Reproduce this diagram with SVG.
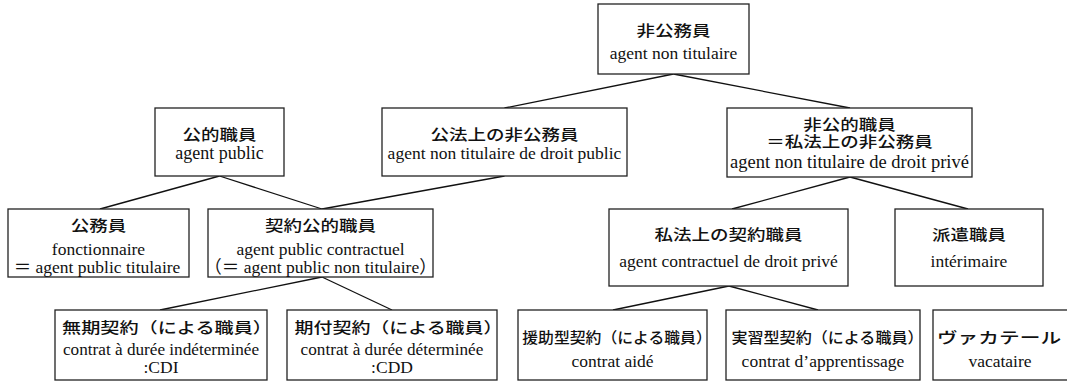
<svg xmlns="http://www.w3.org/2000/svg" width="1067" height="381" viewBox="0 0 1067 381">
<style>
.box{fill:#fff;stroke:#222;stroke-width:1.3}
.ln{stroke:#111;stroke-width:1.3;fill:none}
.jp{font-family:"Noto Sans CJK JP",sans-serif;font-size:18.5px;font-weight:500;fill:#111;text-anchor:middle}
.fr{font-family:"Liberation Serif","Noto Sans CJK JP",serif;font-size:17.5px;fill:#111;text-anchor:middle}
</style>
<rect width="1067" height="381" fill="#fff"/>
<g id="connectors">
<line class="ln" x1="673.5" y1="74" x2="504.5" y2="108"/>
<line class="ln" x1="673.5" y1="74" x2="850" y2="108"/>
<line class="ln" x1="219.5" y1="176" x2="100" y2="209"/>
<line class="ln" x1="219.5" y1="176" x2="322" y2="209"/>
<line class="ln" x1="504.5" y1="176" x2="322" y2="209"/>
<line class="ln" x1="850" y1="177" x2="732" y2="209"/>
<line class="ln" x1="850" y1="177" x2="968" y2="209"/>
<line class="ln" x1="322" y1="277" x2="160" y2="310"/>
<line class="ln" x1="322" y1="277" x2="392" y2="310"/>
<line class="ln" x1="729" y1="286" x2="613" y2="310"/>
<line class="ln" x1="729" y1="286" x2="818" y2="310"/>
</g>
<g id="n-top">
<rect class="box" x="598" y="4" width="151" height="70"/>
<text class="jp" transform="translate(673.5 36) scale(1 .82)">非公務員</text>
<text class="fr" x="673.5" y="59">agent non titulaire</text>
</g>
<g id="n-public">
<rect class="box" x="155" y="108" width="129" height="68"/>
<text class="jp" transform="translate(219.5 139.5) scale(1 .82)">公的職員</text>
<text class="fr" x="219.5" y="159" style="font-size:18px">agent public</text>
</g>
<g id="n-ntpublic">
<rect class="box" x="382" y="108" width="245" height="68"/>
<text class="jp" transform="translate(504.5 139.5) scale(1 .82)">公法上の非公務員</text>
<text class="fr" x="504.5" y="159">agent non titulaire de droit public</text>
</g>
<g id="n-ntprive">
<rect class="box" x="727" y="108" width="245" height="69"/>
<text class="jp" transform="translate(849.5 130) scale(1 .82)"><tspan x="0" y="0">非公的職員</tspan><tspan x="0" dy="21.3">＝私法上の非公務員</tspan></text>
<text class="fr" x="849.5" y="168" style="font-size:18.5px">agent non titulaire de droit privé</text>
</g>
<g id="n-fonctionnaire">
<rect class="box" x="8" y="209" width="181" height="68"/>
<text class="jp" transform="translate(98.5 231) scale(1 .82)">公務員</text>
<text class="fr" x="98.5" y="255">fonctionnaire</text>
<text class="fr" x="97" y="273">＝ agent public titulaire</text>
</g>
<g id="n-contractuel">
<rect class="box" x="208" y="209" width="225" height="68"/>
<text class="jp" transform="translate(320.5 231) scale(1 .82)">契約公的職員</text>
<text class="fr" x="320.5" y="255">agent public contractuel</text>
<text class="fr" x="320.5" y="273">（＝ agent public non titulaire）</text>
</g>
<g id="n-prive">
<rect class="box" x="609" y="209" width="239" height="77"/>
<text class="jp" transform="translate(728.5 240.3) scale(1 .82)">私法上の契約職員</text>
<text class="fr" x="728.5" y="267">agent contractuel de droit privé</text>
</g>
<g id="n-interimaire">
<rect class="box" x="895" y="209" width="148" height="77"/>
<text class="jp" transform="translate(969 240.3) scale(1 .82)">派遣職員</text>
<text class="fr" x="969" y="267">intérimaire</text>
</g>
<g id="n-cdi">
<rect class="box" x="55" y="310" width="212" height="70"/>
<text class="jp" transform="translate(167 332.5) scale(1.035 .82)">無期契約（による職員）</text>
<text class="fr" x="161" y="355" style="font-size:17.2px">contrat à durée indéterminée</text>
<text class="fr" x="161" y="373">:CDI</text>
</g>
<g id="n-cdd">
<rect class="box" x="287" y="310" width="210" height="70"/>
<text class="jp" transform="translate(398.5 332.5) scale(1.025 .82)">期付契約（による職員）</text>
<text class="fr" x="392" y="355" style="font-size:17.2px">contrat à durée déterminée</text>
<text class="fr" x="392" y="373">:CDD</text>
</g>
<g id="n-aide">
<rect class="box" x="518" y="310" width="189" height="70"/>
<text class="jp" transform="translate(617 343.3) scale(.856 .82)">援助型契約（による職員）</text>
<text class="fr" x="612.5" y="367">contrat aidé</text>
</g>
<g id="n-apprentissage">
<rect class="box" x="726" y="310" width="194" height="70"/>
<text class="jp" transform="translate(827.5 343.3) scale(.869 .82)">実習型契約（による職員）</text>
<text class="fr" x="823" y="367">contrat d’apprentissage</text>
</g>
<g id="n-vacataire">
<rect class="box" x="933" y="310" width="150" height="70"/>
<text class="jp" transform="translate(999 343.3) scale(1.12 .82)">ヴァカテール</text>
<text class="fr" x="1000" y="367">vacataire</text>
</g>
</svg>
